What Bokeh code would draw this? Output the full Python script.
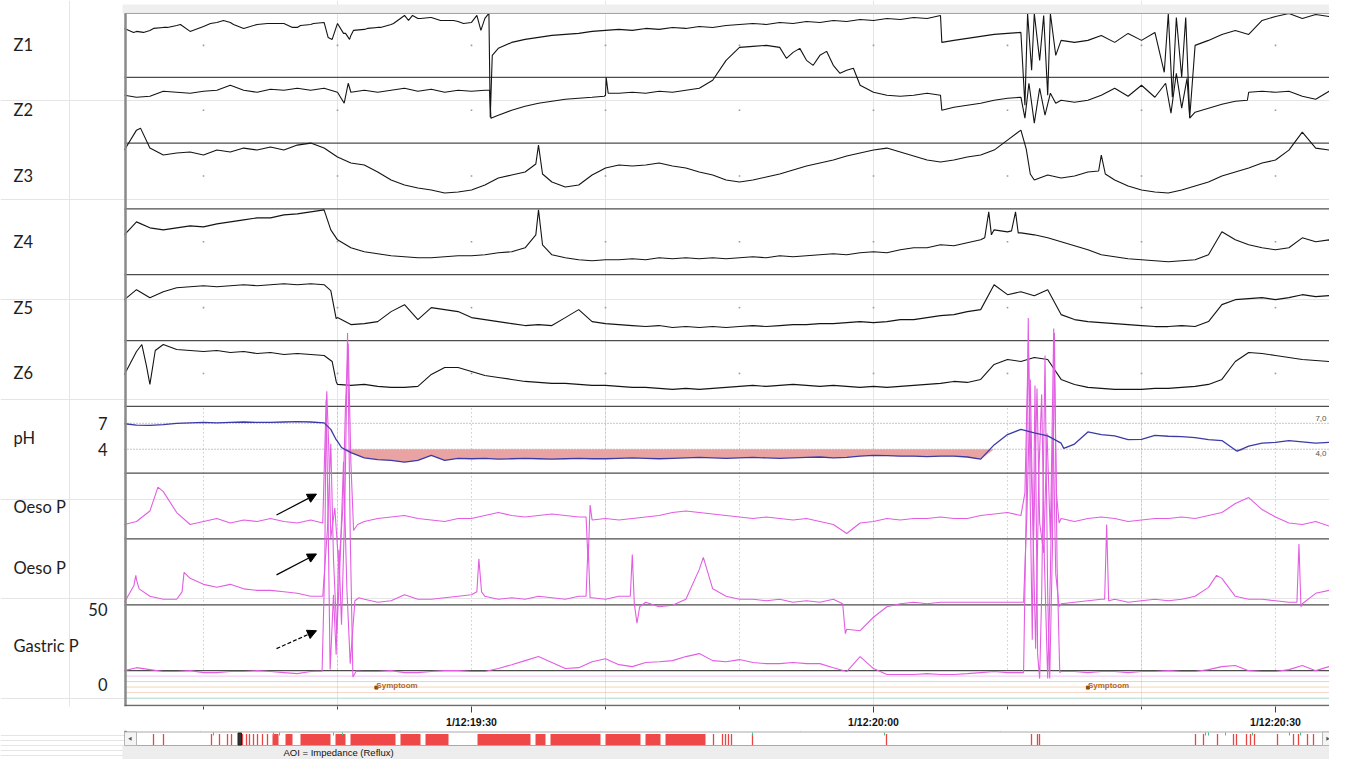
import numpy as np
from bokeh.plotting import figure
from bokeh.models import Range1d, LinearAxis, FixedTicker, Arrow, NormalHead
from bokeh.layouts import column
from bokeh.embed import file_html
from bokeh.resources import INLINE
from bokeh.core.properties import value

# ---------------- data ----------------
# sample times in seconds after 1/12:19:00
T = [4.1, 5, 6, 7, 8, 9, 10, 11, 12, 13,
     14, 15, 16, 17, 18, 19, 20, 21, 22, 23,
     24, 25, 26, 27, 28, 29, 30, 31, 32, 33,
     34, 35, 36, 37, 38, 39, 40, 41, 42, 43,
     44, 45, 46, 47, 48, 49, 50, 51, 52, 53,
     54, 55, 56, 57, 58, 59, 60, 61, 62, 63,
     64, 65, 66, 67, 68, 69, 70, 71, 72, 73,
     74, 75, 76, 77, 78, 79, 80, 81, 82, 83,
     84, 85, 86, 87, 88, 89, 90, 91, 92, 93,
     94, 94.25]

# impedance channels (a.u., height above channel baseline); None = see detail points
z1_v = [49, 46, 47, 50, 52, 46, 51, 55, 55, 49,
        53, 54, 54, 50, 53, 55, 54, 42, 48, 50,
        53, 62, 59, 60, 57, 56, 55, 59, 29, 35,
        38, 40, 42, 43, 44, 46, 47, 48, 47, 49,
        48, 50, 49, 51, 50, 52, 53, 54, 53, 55,
        54, 56, 55, 57, 56, 58, 57, 59, 58, 60,
        59, 62, 37, 39, 41, 43, 44, 45, None, None,
        37, 35, 37, 42, 35, 44, 37, 45, None, None,
        32, 37, 43, 47, 43, 57, 61, 64, 59, 63,
        61, 64]
z1_dt = [4.78, 5.52, 6.27, 7.31, 8.28, 10.52, 11.49, 12.24, 14.78, 15.75, 16.64, 17.24, 18.21,
         19.3, 19.6, 20.45, 20.6, 20.9, 21.19, 22.24, 23.21, 24.18, 25.3, 25.6, 26.19, 26.94,
         27.69, 28.66, 29.4, 30.4, 30.7, 31.3, 31.4, 31.55, 65.1,
         71.3, 71.5, 71.8, 72.0, 72.4, 72.7, 73.0, 73.2, 73.6,
         81.7, 82.0, 82.3, 82.6, 83.0, 83.3, 83.6]
z1_dv = [45, 45, 49, 50, 53, 54, 57, 53, 54, 54, 50, 52, 54,
         40, 38, 44, 44, 38, 47, 49, 50, 54, 57, 62, 59, 60,
         57, 57, 54, 62, 47, 64, -40, 22, 35,
         -28, 64, 7, 64, 17, 62, -18, 64, 22,
         5, 64, -20, 60, 0, 60, -40]

z2_v = [48, 46, 47, 52, 51, 50, 52, 53, 58, 53,
        51, 54, 53, 55, 53, 55, 51, 51, 53, 51,
        53, 55, 52, 54, 51, 53, 52, 53, 28, 33,
        37, 40, 42, 44, 45, 46, 48, 50, 51, 50,
        52, 51, 53, 55, 63, 83, 96, 97, 98, 96,
        91, 83, 88, 78, 73, 58, 51, 48, 47, 48,
        50, 48, 36, 38, 40, 43, 45, 46, None, None,
        43, 41, 43, 48, 55, 47, 58, 46, None, None,
        31, 35, 39, 42, 51, 52, 51, 52, 47, 44,
        52, 53]
z2_dt = [20.5, 20.8, 31.35, 31.45, 39.9, 40.05, 40.2, 53.5, 54.5, 55.5,
         56.5, 57.5, 58.5, 65.1, 71.3, 71.6, 72.0, 72.4, 72.8, 73.2,
         73.6, 81.8, 82.2, 82.6, 83.0, 83.4, 83.6, 87.9]
z2_dv = [40, 60, 53, 25, 47, 66, 50, 85, 95, 78,
         92, 70, 75, 33, 25, 60, 20, 55, 28, 50,
         40, 60, 30, 70, 35, 65, 25, 43]

z3_v = [59, 79, 61, 54, 56, 57, 54, 59, 57, 61,
        59, 62, 59, 64, 66, 61, 52, 46, 44, 37,
        29, 24, 21, 19, 16, 17, 19, 24, 31, 34,
        37, 64, 27, 22, 24, 34, 41, 44, 43, 44,
        46, 43, 41, 37, 34, 29, 27, 29, 32, 35,
        39, 43, 46, 49, 53, 56, 59, 61, 57, 53,
        49, 47, 49, 52, 54, 59, 69, 79, 29, 34,
        31, 33, 37, 54, 29, 23, 19, 17, 16, 19,
        23, 27, 33, 37, 41, 46, 49, 59, 77, 61,
        59, 58]
z3_dt = [5.3, 34.8, 35.3, 71.4, 71.7, 76.8, 77.3]
z3_dv = [81, 45, 35, 60, 35, 38, 35]

z4_v = [40, 53, 47, 45, 47, 49, 48, 51, 53, 55,
        57, 57, 60, 61, 63, 65, 35, 27, 23, 21,
        19, 18, 17, 17, 18, 19, 19, 20, 22, 23,
        27, 65, 20, 17, 15, 14, 15, 15, 16, 15,
        17, 16, 17, 16, 17, 16, 17, 18, 17, 19,
        18, 19, 20, 21, 20, 22, 23, 22, 25, 27,
        27, 30, 29, 32, 35, 45, 43, 42, 40, 37,
        33, 29, 25, 20, 18, 16, 15, 14, 13, 14,
        15, 20, 43, 35, 30, 27, 25, 27, 37, 33,
        35, 34]
z4_dt = [19.5, 34.8, 35.3, 68.3, 68.6, 68.8, 70.3, 70.6, 70.8]
z4_dv = [45, 40, 30, 37, 63, 40, 44, 63, 42]

z5_v = [41, 51, 43, 49, 53, 54, 55, 54, 55, 56,
        55, 56, 57, 56, 57, 56, 23, 16, 17, 19,
        29, 36, 21, 33, 31, 29, 23, 21, 19, 17,
        15, 16, 15, 23, 31, 19, 17, 16, 15, 14,
        15, 13, 14, 13, 14, 13, 14, 15, 14, 15,
        16, 16, 17, 17, 18, 19, 18, 19, 21, 21,
        23, 25, 26, 29, 31, 56, 46, 49, 45, 51,
        26, 21, 19, 18, 17, 16, 15, 14, 14, 15,
        14, 19, 36, 41, 42, 43, 41, 43, 46, 44,
        45, 44]
z5_dt = [19.5, 19.9]
z5_dv = [50, 22]

z6_v = [32, 55, 22, 62, 57, 56, 55, 56, 54, 55,
        53, 54, 52, 53, 52, 51, 22, 21, 22, 20,
        19, 19, 20, 32, 39, 39, 35, 31, 29, 27,
        25, 24, 23, 23, 22, 21, 21, 20, 19, 19,
        18, 17, 18, 17, 18, 19, 20, 21, 20, 21,
        22, 21, 20, 21, 20, 19, 20, 19, 20, 21,
        22, 23, 25, 24, 27, 42, 47, 45, 49, 47,
        27, 22, 19, 18, 17, 17, 17, 18, 18, 19,
        20, 22, 27, 45, 54, 53, 51, 49, 47, 46,
        45, 45]
z6_dt = [5.4, 5.75, 6.4, 19.6, 19.9]
z6_dv = [62, 40, 56, 45, 25]

# pH
ph_v = [6.95, 6.8, 6.75, 6.85, 7.0, 7.05, 7.1, 7.05, 7.1, 7.15,
        7.1, 7.1, 7.15, 7.2, 7.15, 7.05, 4.9, 3.6, 3.0, 2.8,
        2.7, 2.5, 2.7, 3.3, 2.7, 2.95, 2.9, 2.95, 2.85, 2.9,
        2.95, 2.9, 2.85, 2.9, 2.95, 2.9, 2.9, 2.95, 3.0, 2.95,
        2.9, 2.95, 3.0, 3.05, 3.0, 2.95, 3.0, 3.05, 3.0, 2.95,
        3.0, 3.05, 3.1, 3.0, 3.05, 3.2, 3.3, 3.25, 3.2, 3.2,
        3.15, 3.2, 3.2, 3.1, 2.85, 4.5, 5.7, 6.3, 5.9, 5.55,
        4.7, 4.6, 6.0, 5.7, 5.55, 5.1, 5.15, 5.6, 5.5, 5.45,
        5.35, 5.1, 5.0, 3.9, 4.35, 4.7, 4.8, 5.0, 4.85, 4.7,
        4.8, 4.75]
ph_dt = [19.5, 19.9, 20.3, 74.2, 87.15]
ph_dv = [6.3, 5.1, 4.2, 4.1, 3.77]
ph_threshold = 4

# pressures (mmHg)
oe1_v = [19, 21, 28, 41, 27, 19, 21, 23, 20, 22,
         21, 23, 21, 20, 22, None, None, None, 21, 23,
         24, 25, 23, 22, 21, 23, 23, 25, 27, 25,
         24, 25, 26, 25, 24, 22, 23, 22, 23, 24,
         25, 27, 28, 27, 26, 25, 24, 23, 24, 23,
         22, 23, 21, 19, 13, 20, 21, 23, 22, 23,
         23, 24, 23, 23, 25, 26, 27, 25, None, None,
         23, 21, 23, 24, 23, 21, 22, 23, 23, 24,
         23, 25, 27, 33, 37, 29, 24, 20, 19, 21,
         18, 19]
oe1_dt = [6.6, 18.9, 19.1, 19.2, 19.35, 19.5, 19.8, 20.1, 20.4, 20.6, 20.8, 21.0, 21.2, 21.5,
          38.55, 38.7, 38.85,
          71.3, 71.55, 71.75, 71.95, 72.2, 72.4, 72.7, 72.95, 73.2, 73.45, 73.65, 73.85]
oe1_dv = [44, 20, 85, 108, 70, 10, 30, -10, 30, 100, 140, 60, 15, 19,
          24, -6, 32,
          40, 140, 60, 10, 110, 20, 0, 80, 10, 150, 40, 20]

oe2_v = [11, 26, 15, 13, 13, 27, 23, 21, 23, 20,
         19, 19, 18, 17, 15, None, None, None, 13, 11,
         12, 16, 13, 13, 14, 15, 16, 15, 13, 14,
         13, 15, 14, 13, 15, 14, 13, 15, None, 11,
         8, 9, 13, 33, 20, 15, 13, 13, 12, 13,
         11, 12, 11, 13, -7, -8, 1, 8, 10, 11,
         10, 11, 11, 11, 11, 11, 11, 11, None, None,
         10, 11, 12, 13, 13, 11, 12, 13, 12, 13,
         15, 21, 27, 15, 13, 13, 12, 11, 10, 17,
         19, 18]
oe2_dt = [4.8, 4.95, 5.2, 8.4, 8.55,
          18.9, 19.25, 19.5, 19.7, 19.95, 20.2, 20.45, 20.7, 20.95, 21.3, 21.6,
          30.4, 30.55, 30.75, 38.55, 38.7, 38.85, 41.85, 42.0, 42.15, 42.35, 42.55,
          47.3, 57.7, 57.9,
          71.2, 71.45, 71.7, 71.9, 72.1, 72.35, 72.55, 72.75, 73.0, 73.2, 73.4, 73.6, 73.85,
          77.25, 77.4, 77.55, 85.6, 91.6, 91.75, 91.9]
oe2_dv = [22, 29, 20, 18, 31,
          15, 60, 117, 40, -10, 40, 105, 20, -30, 12, 14,
          18, 40, 18, 15, 50, 14, 15, 43, 10, -3, 8,
          41, 10, -10,
          11, 70, 160, 60, -20, 100, 150, 40, -40, 30, 130, 30, 8,
          13, 63, 12, 29, 11, 50, 8]

ga_v = [9.3, 11.3, 10, 8.7, 8.7, 9.3, 8, 8, 8.7, 8.7,
        9.3, 8.7, 8, 7.3, 8.7, None, None, None, 8.7, 8.7,
        9.3, 8, 8, 8.7, 9.3, 9.3, 8.7, 8.7, 10.7, 13.3,
        16, 18.7, 14.7, 10.7, 11.3, 15.3, 17.3, 13.3, 12, 14.7,
        15.3, 16, 18.7, 20.7, 16, 15.3, 16.7, 14.7, 14, 14,
        14.7, 14, 14, 11.3, 8.7, 18.7, 10.7, 6.7, 6.7, 6.7,
        7.3, 6.7, 6.7, 7.3, 8, 8.7, 8, 8, None, None,
        8.7, 8.7, 8, 8.7, 8.7, 8, 8.7, 8.7, 9.3, 8.7,
        8.7, 10, 12, 12.7, 9.3, 8.7, 8.7, 10, 12.7, 9.3,
        12, 11]
ga_dt = [18.85, 19.05, 19.15, 19.3, 19.45, 19.7, 19.9, 20.1, 20.3, 20.55, 20.75, 20.95, 21.15, 21.4,
         71.2, 71.4, 71.55, 71.7, 71.85, 72.05, 72.25, 72.4, 72.55, 72.8, 73.0, 73.15, 73.35, 73.5, 73.7, 73.9]
ga_dv = [9, 80, 190, 110, 10, 60, 20, 90, 40, 120, 235, 100, 5, 9,
         8, 120, 245, 120, 30, 200, 20, 4, 60, 220, 60, 4, 90, 235, 80, 8]

lane_names = ["Z1", "Z2", "Z3", "Z4", "Z5", "Z6", "pH", "Oeso P", "Oeso P", "Gastric P"]
ph_ref = [7, 4]
ph_ref_labels = ["7", "4"]
ph_right_labels = ["7,0", "4,0"]
gastric_ref = [50, 0]
gastric_ref_labels = ["50", "0"]
major_ticks = [30, 60, 90]
major_tick_labels = ["1/12:19:30", "1/12:20:00", "1/12:20:30"]
minor_ticks = [10, 20, 40, 50, 70, 80]
symptom_t = [22.9, 76.0]
symptom_text = "Symptoom"
event_channels = [1, 2, 3, 4, 5]
event_colors = ["#e486e4", "#6ccbd8", "#e8aa6c", "#f0ac8e", "#6fdcbc"]

# overview (scroll bar) events, minutes from start of recording
ov_reflux = [18, 28, 76, 84, 92, 96, 107, 111, 114, 118, 122, 127, 132, 578, 587, 590, 593, 596,
             617, 751, 896, 902, 904, 1060, 1068, 1082, 1098, 1101, 1111, 1115, 1119, 1142,
             1158, 1163, 1172, 1178]
ov_block_start = [137, 150, 165, 200, 215, 265, 290, 342, 400, 415, 470, 510, 530]
ov_block_end = [143, 157, 195, 210, 260, 285, 313, 395, 410, 465, 505, 525, 570]
ov_other = [78, 138, 144, 198, 207, 617, 749, 1070, 1073, 1090, 1117, 1154, 1165]
ov_view = 104
status_text = "AOI = Impedance (Reflux)"


def series(vals, dt, dv):
    if len(vals) != len(T):
        raise ValueError("length mismatch %d" % len(vals))
    pts = [(t, v) for t, v in zip(T, vals) if v is not None] + list(zip(dt, dv))
    pts.sort()
    return [a for a, _ in pts], [b for _, b in pts]


# ---------------- layout ----------------
W = 1329
Y0 = 0            # y of canvas top
F1_BOT = 708      # y of frame bottom in top figure
H1 = 730
H2 = 29
PX30 = 471.0      # x of 19:30
PXS = 13.4        # px per second
CL, CR = 124, 1332


def t_at(px):
    return 30 + (px - PX30) / PXS


def lane_range(a, b):
    # y = a - b * value
    return Range1d(start=(a - F1_BOT) / b, end=(a - Y0) / b)


p = figure(width=W, height=H1,
           x_range=Range1d(t_at(0), t_at(W)), y_range=Range1d(F1_BOT, Y0),
           x_axis_location=None, y_axis_location=None,
           toolbar_location=None, tools="", output_backend="svg",
           min_border_left=0, min_border_right=0, min_border_top=0,
           min_border_bottom=H1 - (F1_BOT - Y0),
           outline_line_color=None, background_fill_color="white",
           border_fill_color="white")
p.extra_x_ranges = {"px": Range1d(0, W)}
p.extra_y_ranges = {
    "z1": lane_range(77, 1), "z2": lane_range(143, 1), "z3": lane_range(209, 1),
    "z4": lane_range(275, 1), "z5": lane_range(341, 1), "z6": lane_range(407, 1),
    "ph": lane_range(424 + 7 * 26 / 3, 26 / 3),
    "oe1": lane_range(554, 1.5), "oe2": lane_range(620, 1.5), "ga": lane_range(686, 1.5),
    "ev": lane_range(672, -5.5),
}
tL, tR = t_at(CL), t_at(CR)
grid_t = sorted(major_ticks + minor_ticks)

# vertical dotted grid in lower lanes
p.segment(x0=grid_t, y0=[409] * len(grid_t), x1=grid_t, y1=[671] * len(grid_t),
          line_color="#b4b4b4", line_dash="1 3", line_width=1)
# dots in impedance lanes
zc = [45, 110, 176, 242, 308, 374]
p.scatter(x=[t for t in grid_t for _ in zc], y=[c for _ in grid_t for c in zc],
          marker="square", size=1.6, fill_color="#9a9a9a", line_color=None)

# pH reference lines and reflux fill
p.segment(x0=[tL] * 2, y0=ph_ref, x1=[tR] * 2, y1=ph_ref, y_range_name="ph",
          line_color="#8c8c8c", line_dash="1 2", line_width=1)
ph_t, ph_s = series(ph_v, ph_dt, ph_dv)
p.varea(x=ph_t, y1=[ph_threshold] * len(ph_t), y2=np.minimum(ph_s, ph_threshold),
        y_range_name="ph", fill_color="#eaa3a3")

# lane separators
sep_y = [77, 143, 209, 275, 341, 407, 474, 540, 606, 672]
p.segment(x0=[CL] * len(sep_y), y0=sep_y, x1=[CR] * len(sep_y), y1=sep_y,
          x_range_name="px", line_color="#4d4d4d", line_width=1.3)

# event channel baselines
p.segment(x0=[tL] * 5, y0=event_channels, x1=[tR] * 5, y1=event_channels,
          y_range_name="ev", line_color=event_colors, line_dash="1 1", line_width=1)

# impedance traces
for name, v, dt, dv in [("z1", z1_v, z1_dt, z1_dv), ("z2", z2_v, z2_dt, z2_dv),
                        ("z3", z3_v, z3_dt, z3_dv), ("z4", z4_v, z4_dt, z4_dv),
                        ("z5", z5_v, z5_dt, z5_dv), ("z6", z6_v, z6_dt, z6_dv)]:
    xs, ys = series(v, dt, dv)
    p.line(xs, ys, y_range_name=name, line_color="#141414", line_width=1.1)

# pressure traces
for name, v, dt, dv in [("oe1", oe1_v, oe1_dt, oe1_dv), ("oe2", oe2_v, oe2_dt, oe2_dv),
                        ("ga", ga_v, ga_dt, ga_dv)]:
    xs, ys = series(v, dt, dv)
    p.line(xs, ys, y_range_name=name, line_color="#e35de3", line_width=1.1)

# pH trace
p.line(ph_t, ph_s, y_range_name="ph", line_color="#3a3aa8", line_width=1.3)

# symptom events
p.scatter(x=symptom_t, y=[3.1] * len(symptom_t), y_range_name="ev", marker="square",
          size=3, fill_color="#9a4a08", line_color="#9a4a08")
p.text(x=symptom_t, y=[2.65] * len(symptom_t), text=[symptom_text] * len(symptom_t),
       y_range_name="ev", text_font=value("Liberation Sans"), text_font_size="8px",
       text_font_style="bold", text_color="#b5651d", text_align="left",
       text_baseline="alphabetic")

# lane labels
lab_y = [45, 110, 176, 242, 308, 374, 439, 508, 569, 647]
p.text(x=[13] * len(lane_names), y=lab_y, text=lane_names, x_range_name="px",
       text_font=value("Lato"), text_font_size="16.5px", text_color="#1e1e1e",
       text_align="left", text_baseline="middle")
p.text(x=[107] * 2, y=ph_ref, text=ph_ref_labels, x_range_name="px", y_range_name="ph",
       text_font=value("Lato"), text_font_size="16.5px", text_color="#1e1e1e",
       text_align="right", text_baseline="middle")
p.text(x=[107] * 2, y=gastric_ref, text=gastric_ref_labels, x_range_name="px", y_range_name="ga",
       text_font=value("Lato"), text_font_size="16.5px", text_color="#1e1e1e",
       text_align="right", text_baseline="middle")
p.text(x=[1326] * 2, y=ph_ref, text=ph_right_labels, x_range_name="px", y_range_name="ph",
       y_offset=[-5, 4], text_font=value("Liberation Sans"), text_font_size="8px",
       text_color="#505050", text_align="right", text_baseline="middle")

# arrows
for (x0, y0, x1, y1, dash) in [(276, 516, 316, 495, "solid"), (276, 576, 316, 555, "solid"),
                               (276, 650, 316, 632, "4 2")]:
    p.add_layout(Arrow(end=NormalHead(size=9, fill_color="black", line_color="black"),
                       x_start=x0, y_start=y0, x_end=x1, y_end=y1, line_width=1.2,
                       line_color="black", line_dash=dash, x_range_name="px"))

# window chrome
p.quad(left=[122], right=[W], top=[4], bottom=[13], x_range_name="px",
       fill_color="#efefef", line_color=None)
p.segment(x0=[CL], y0=[13], x1=[W], y1=[13], x_range_name="px",
          line_color="#a0a0a0", line_width=1)
p.segment(x0=[125], y0=[13], x1=[125], y1=[F1_BOT], x_range_name="px",
          line_color="#8a8a8a", line_width=2.5)
p.segment(x0=[CL], y0=[707], x1=[W], y1=[707], x_range_name="px",
          line_color="#6a6a6a", line_width=1.5)

# time axis
ax = LinearAxis(ticker=FixedTicker(ticks=major_ticks, minor_ticks=minor_ticks),
                major_label_overrides=dict(zip(major_ticks, major_tick_labels)))
ax.axis_line_color = None
ax.major_tick_in = 0
ax.major_tick_out = 6
ax.minor_tick_in = 0
ax.minor_tick_out = 3
ax.major_tick_line_color = "#404040"
ax.minor_tick_line_color = "#404040"
ax.major_label_standoff = 3
ax.major_label_text_font = "Liberation Sans"
ax.major_label_text_font_size = "10.5px"
ax.major_label_text_font_style = "bold"
ax.major_label_text_color = "#111111"
p.add_layout(ax, "below")

# ---------------- bottom: scroll bar + status bar ----------------
p2 = figure(width=W, height=H2, x_range=Range1d(0, W), y_range=Range1d(730 + H2, 730),
            x_axis_location=None, y_axis_location=None,
            toolbar_location=None, tools="", output_backend="svg", min_border=0,
            outline_line_color=None, background_fill_color="white",
            border_fill_color="white")
p2.extra_x_ranges = {"ov": Range1d(-135, W - 135)}

p2.quad(left=[122], right=[W], top=[745], bottom=[730 + H2], fill_color="#ededed", line_color=None)
p2.quad(left=[124], right=[1334], top=[731.5], bottom=[745], fill_color="white", line_color="#a9a9a9")
p2.quad(left=ov_block_start, right=ov_block_end, top=[733.5] * len(ov_block_start),
        bottom=[744.5] * len(ov_block_start), x_range_name="ov", fill_color="#ee4848", line_color=None)
p2.segment(x0=ov_reflux, y0=[733.5] * len(ov_reflux), x1=ov_reflux, y1=[744.5] * len(ov_reflux),
           x_range_name="ov", line_color="#e84545", line_width=1.3)
p2.segment(x0=ov_other, y0=[732] * len(ov_other), x1=ov_other, y1=[735] * len(ov_other),
           x_range_name="ov", line_color="#4cc08a", line_width=1)
p2.quad(left=[ov_view - 1.5], right=[ov_view + 2], top=[732.5], bottom=[744.5], x_range_name="ov",
        fill_color="#333333", line_color="#222222")
p2.quad(left=[124, 1322], right=[136, 1334], top=[731.5] * 2, bottom=[745] * 2,
        fill_color="#f4f4f4", line_color="#b5b5b5")
p2.scatter(x=[130, 1327], y=[738.3, 738.3], marker="triangle", angle=[np.pi / 2, -np.pi / 2],
           size=4, fill_color="#555555", line_color=None)
p2.segment(x0=[125], y0=[730], x1=[125], y1=[731.5], line_color="#8a8a8a", line_width=2.5)
p2.text(x=[283], y=[752], text=[status_text], text_font=value("Liberation Sans"),
        text_font_size="9.5px", text_color="#111111", text_align="left", text_baseline="middle")

layout = column(p, p2)
open("out.html", "w").write(file_html(layout, INLINE))
